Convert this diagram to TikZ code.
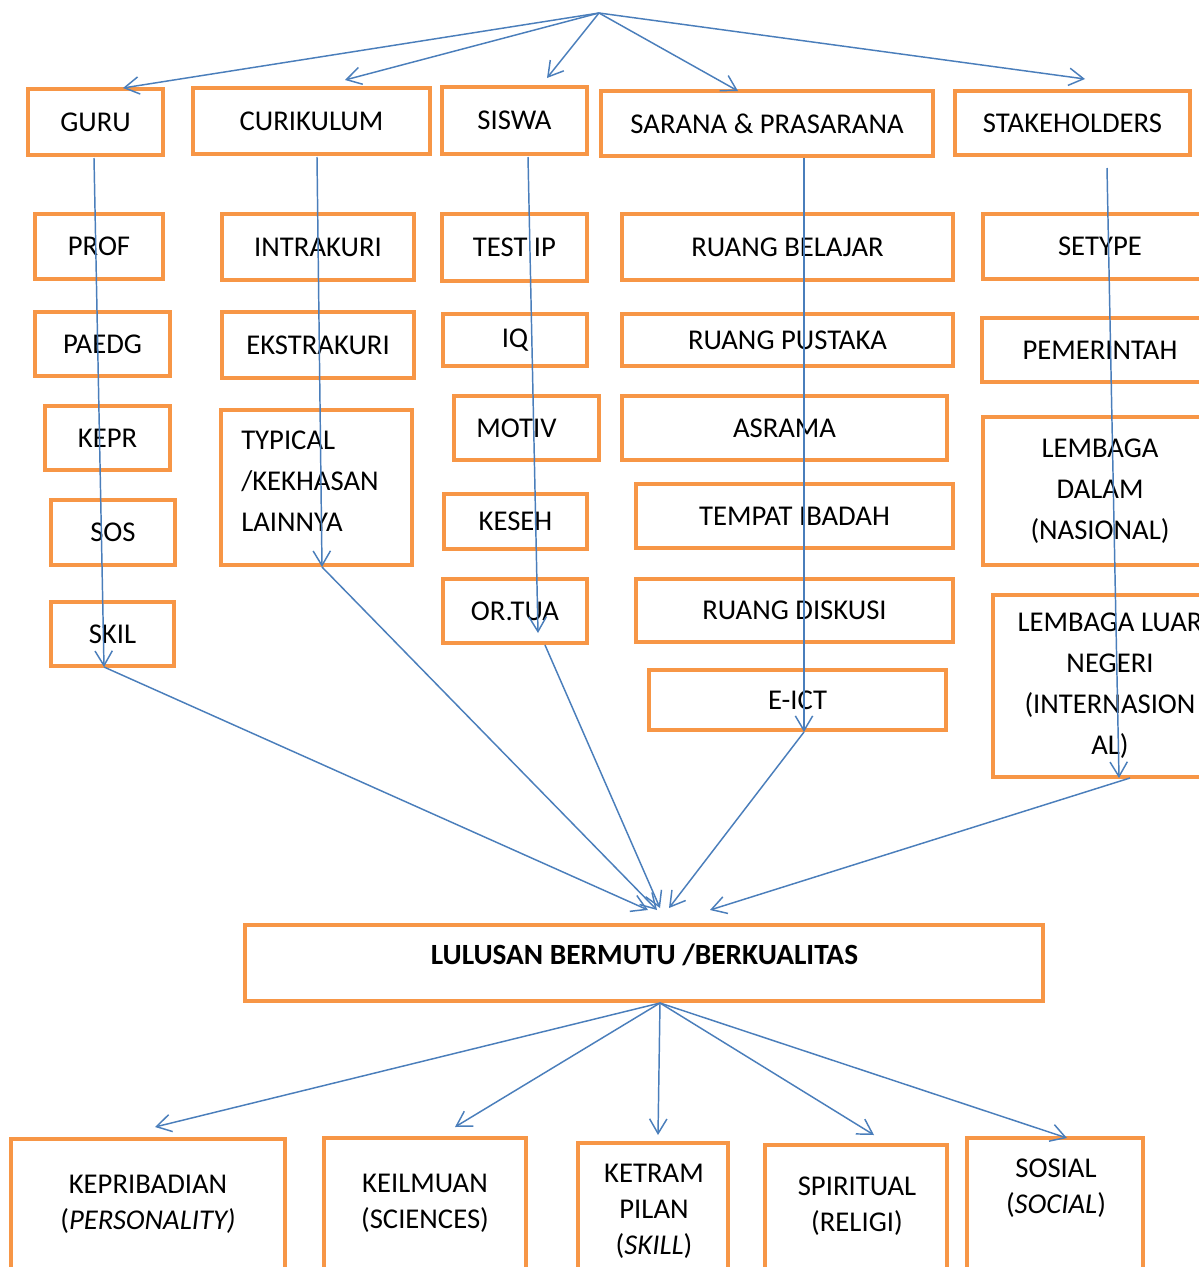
\documentclass[tikz,border=0pt]{standalone}
\usepackage{fontspec}
\setmainfont{Carlito}
\usetikzlibrary{arrows.meta}
\definecolor{boxorange}{HTML}{F79646}
\definecolor{linkblue}{HTML}{4A7EBB}
\begin{document}
\begin{tikzpicture}[x=0.75pt,y=-0.75pt,
  box/.style 2 args={draw=boxorange, line width=3.2pt, minimum width=#1*0.75pt,
    minimum height=#2*0.75pt, inner sep=0pt, align=center,
    font=\fontsize{21.5}{30.75}\selectfont},
  label text/.style={inner sep=0pt, align=center, font=\fontsize{21.5}{27}\selectfont},
  link/.style={draw=linkblue, line width=1.1pt, -{Straight Barb[length=11pt,width=13pt]}}]
\useasboundingbox (0,0) rectangle (1199,1267);
\fill[white] (0,0) rectangle (1199,1267);
\clip (0,0) rectangle (1199,1267);

% top row
\node[box={135}{66}]  (guru)   at (95.5,122)  {GURU};
\node[box={237}{66}]  (kur)    at (311.5,121) {CURIKULUM};
\node[box={145}{67}]  (siswa)  at (514.5,120.5) {SISWA};
\node[box={332}{65}]  (sarana) at (767,123.5) {SARANA \& PRASARANA};
\node[box={235}{64}]  (stake)  at (1072.5,123) {STAKEHOLDERS};

% GURU column
\node[box={128}{65}] (prof)  at (99,246.5)  {PROF};
\node[box={135}{64}] (paedg) at (102.5,344) {PAEDG};
\node[box={125}{64}] (kepr)  at (107.5,438) {KEPR};
\node[box={124}{65}] (sos)   at (113,532.5) {SOS};
\node[box={123}{64}] (skil)  at (112.5,634) {SKIL};

% CURIKULUM column
\node[box={192}{66}]  (intra)   at (318,247)   {INTRAKURI};
\node[box={192}{66}]  (ekstra)  at (318,345)   {EKSTRAKURI};
\node[box={191}{155}] (typical) at (316.5,487.5) {};
\node[inner sep=0pt, align=left, anchor=west, font=\fontsize{21.5}{30.75}\selectfont]
  (typicaltxt) at (241,481) {TYPICAL\\/KEKHASAN\\LAINNYA};

% SISWA column
\node[box={145}{67}] (testip) at (514.5,247.5) {TEST IP};
\node[box={144}{52}] (iq)     at (515,340)     {IQ};
\node[box={145}{64}] (motiv)  at (526.5,428)   {MOTIV\hspace*{15pt}};
\node[box={143}{55}] (keseh)  at (515.5,521.5) {KESEH};
\node[box={144}{64}] (ortua)  at (515,611)     {OR.TUA};

% SARANA & PRASARANA column
\node[box={331}{66}] (belajar) at (787.5,247)  {RUANG BELAJAR};
\node[box={331}{52}] (pustaka) at (787.5,340)  {RUANG PUSTAKA};
\node[box={325}{64}] (asrama)  at (784.5,428)  {ASRAMA};
\node[box={317}{64}] (ibadah)  at (794.5,516)  {TEMPAT IBADAH};
\node[box={317}{63}] (diskusi) at (794.5,610.5) {RUANG DISKUSI};
\node[box={297}{60}] (eict)    at (797.5,700)  {E-ICT};

% STAKEHOLDERS column
\node[box={234}{65}]  (setype) at (1100,246.5) {SETYPE};
\node[box={236}{64}]  (pemer)  at (1100,350)   {PEMERINTAH};
\node[box={234}{148}] (ldalam) at (1100,491)   {LEMBAGA\\DALAM\\(NASIONAL)};
\node[box={234}{182}] (lluar)  at (1110,686)   {LEMBAGA LUAR\\NEGERI\\(INTERNASION\\AL)};

% outcome
\node[box={798}{76}] (lulusan) at (644,963) {};
\node[inner sep=0pt, font=\fontsize{22}{30}\selectfont\bfseries] (lulusantxt) at (644.5,955)
  {LULUSAN BERMUTU /BERKUALITAS};

% bottom row (boxes run past the lower edge)
\node[box={274}{150}] (kepri)   at (148,1214)  {};
\node[box={202}{150}] (ilmu)    at (425,1213)  {};
\node[box={150}{150}] (terampil) at (653,1218) {};
\node[box={182}{150}] (spirit)  at (856,1220)  {};
\node[box={176}{150}] (sosial)  at (1055,1213) {};
\node[label text] (kepritxt)   at (148,1204) {KEPRIBADIAN\\(\textit{PERSONALITY)}};
\node[label text] (ilmutxt)    at (425,1203) {KEILMUAN\\(SCIENCES)};
\node[label text] (terampiltxt) at (654,1211) {KETRAM\\PILAN\\(\textit{SKILL})};
\node[label text] (spirittxt)  at (857,1206) {SPIRITUAL\\(RELIGI)};
\node[label text] (sosialtxt)  at (1056,1188) {SOSIAL\\(\textit{SOCIAL})};

% connector end points
\coordinate (apex) at (599,13);
\coordinate (tguru) at (123,88);
\coordinate (tkur) at (345,80);
\coordinate (tsiswa) at (547,78);
\coordinate (tsarana) at (738,91);
\coordinate (tstake) at (1085,79);

\coordinate (sguru) at (94,158);   \coordinate (eguru) at (104,667);
\coordinate (skur) at (317,157);   \coordinate (ekur) at (322,567);
\coordinate (ssiswa) at (528,157); \coordinate (esiswa) at (538,633);
\coordinate (ssarana) at (804,158); \coordinate (esarana) at (804,732);
\coordinate (sstake) at (1107,168); \coordinate (estake) at (1119,778);

\coordinate (fsiswa) at (545,645);
\coordinate (fstake) at (1130,778);
\coordinate (hguru) at (648,910);
\coordinate (hkur) at (657,910);
\coordinate (hsiswa) at (660,908);
\coordinate (hsarana) at (669,908);
\coordinate (hstake) at (710,910);

\coordinate (out) at (660,1003);
\coordinate (bkepri) at (155,1127);
\coordinate (bilmu) at (455,1127);
\coordinate (bterampil) at (658,1135);
\coordinate (bspirit) at (874,1135);
\coordinate (bsosial) at (1067,1138);

% top fan
\foreach \t in {tguru,tkur,tsiswa,tsarana,tstake}
  \draw[link] (apex) -- (\t);

% column spines
\draw[link] (sguru) -- (eguru);
\draw[link] (skur) -- (ekur);
\draw[link] (ssiswa) -- (esiswa);
\draw[link] (ssarana) -- (esarana);
\draw[link] (sstake) -- (estake);

% converging to the outcome
\draw[link] (eguru) -- (hguru);
\draw[link] (ekur) -- (hkur);
\draw[link] (fsiswa) -- (hsiswa);
\draw[link] (esarana) -- (hsarana);
\draw[link] (fstake) -- (hstake);

% outcome fan
\foreach \t in {bkepri,bilmu,bterampil,bspirit,bsosial}
  \draw[link] (out) -- (\t);
\end{tikzpicture}
\end{document}
